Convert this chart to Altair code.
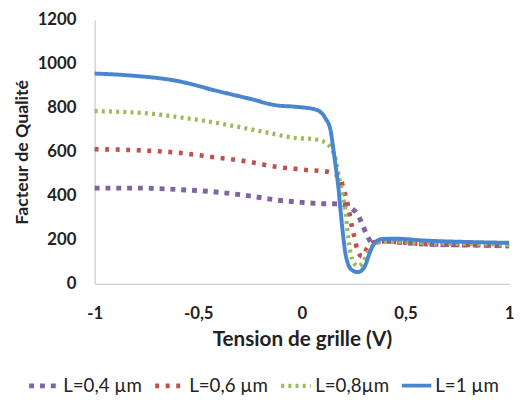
import altair as alt
import pandas as pd

series_names = ["L=0,4 µm", "L=0,6 µm", "L=0,8µm", "L=1 µm"]
series_colors = ["#8064A2", "#C0504D", "#9BBB59", "#4A86D0"]
series_dash = [[5, 6], [4, 6.7], [3, 4.3], [1, 0]]
series_width = [5, 4, 3, 3]

x_04 = [-1, -0.79, -0.61, -0.45, -0.28, -0.114, 0.0, 0.1, 0.171, 0.223, 0.245, 0.266, 0.29, 0.314, 0.342, 0.385, 0.447, 0.6, 0.8, 1.0]
y_04 = [435, 435, 429, 420, 403, 380, 370, 364, 363, 354, 340, 319, 274, 221, 185, 195, 190, 180, 176, 172]

x_06 = [-1, -0.82, -0.61, -0.42, -0.27, -0.12, -0.014, 0.033, 0.09, 0.138, 0.185, 0.2, 0.223, 0.242, 0.257, 0.266, 0.29, 0.318, 0.352, 0.4, 0.6, 0.8, 1.0]
y_06 = [612, 608, 597, 575, 557, 531, 521, 516, 513, 506, 480, 435, 354, 257, 199, 159, 124, 168, 190, 192, 180, 176, 173]

x_08 = [-1, -0.75, -0.55, -0.36, -0.18, -0.04, 0.067, 0.114, 0.138, 0.162, 0.176, 0.19, 0.2, 0.209, 0.219, 0.233, 0.247, 0.271, 0.295, 0.318, 0.352, 0.4, 0.6, 0.8, 1.0]
y_08 = [785, 775, 752, 723, 690, 664, 656, 642, 620, 568, 500, 440, 390, 340, 250, 150, 100, 80, 97, 142, 180, 192, 185, 181, 178]

x_10 = [-1, -0.84, -0.6, -0.41, -0.25, -0.12, -0.03, 0.067, 0.114, 0.138, 0.152, 0.165, 0.176, 0.185, 0.195, 0.209, 0.225, 0.242, 0.271, 0.29, 0.304, 0.328, 0.352, 0.385, 0.447, 0.6, 0.8, 1.0]
y_10 = [956, 948, 922, 877, 841, 811, 805, 792, 752, 700, 612, 520, 440, 350, 255, 145, 85, 62, 53, 62, 80, 142, 186, 203, 205, 196, 190, 186]

x_ticks = [-1, -0.5, 0, 0.5, 1]
y_ticks = [0, 200, 400, 600, 800, 1000, 1200]

rows = []
for name, xs, ys in zip(series_names, [x_04, x_06, x_08, x_10], [y_04, y_06, y_08, y_10]):
    for i, (xv, yv) in enumerate(zip(xs, ys)):
        rows.append({"serie": name, "x": xv, "y": yv, "i": i})
df = pd.DataFrame(rows)

FONT = "Lato"
TXT = "#222222"

chart = alt.Chart(df).mark_line(interpolate="monotone").encode(
    x=alt.X("x:Q",
            scale=alt.Scale(domain=[-1, 1], nice=False),
            axis=alt.Axis(title="Tension de grille (V)", values=x_ticks,
                          labelExpr="replace(toString(datum.value), '.', ',')",
                          grid=False, ticks=False, tickSize=0, labelPadding=22,
                          titlePadding=8, labelFlush=False,
                          labelFontSize=17, titleFontSize=21)),
    y=alt.Y("y:Q",
            scale=alt.Scale(domain=[0, 1200], nice=False),
            axis=alt.Axis(title="Facteur de Qualité", values=y_ticks, format="d",
                          grid=False, ticks=False, tickSize=0, labelPadding=19,
                          titlePadding=6, labelFontSize=17, titleFontSize=18)),
    color=alt.Color("serie:N",
                    scale=alt.Scale(domain=series_names, range=series_colors),
                    legend=alt.Legend(title=None, orient="none", direction="horizontal",
                                      legendX=-69, legendY=354,
                                      symbolType="stroke", symbolSize=900,
                                      labelFont=FONT, labelFontSize=19,
                                      labelColor=TXT, labelOffset=2,
                                      columnPadding=4)),
    strokeDash=alt.StrokeDash("serie:N",
                              scale=alt.Scale(domain=series_names, range=series_dash)),
    strokeWidth=alt.StrokeWidth("serie:N",
                                scale=alt.Scale(domain=series_names, range=series_width)),
    order="i:Q",
).properties(
    width=421, height=268,
    autosize=alt.AutoSizeParams(type="none"),
    padding={"left": 88, "top": 9, "right": 7, "bottom": 114},
).configure_view(
    stroke=None
).configure_axis(
    domainColor="#BFBFBF", domainWidth=1,
    labelFont=FONT, labelFontWeight="bold", labelColor=TXT,
    titleFont=FONT, titleFontWeight="bold", titleColor=TXT,
)

chart.save("out.html", embed_options={"renderer": "svg", "actions": False})
